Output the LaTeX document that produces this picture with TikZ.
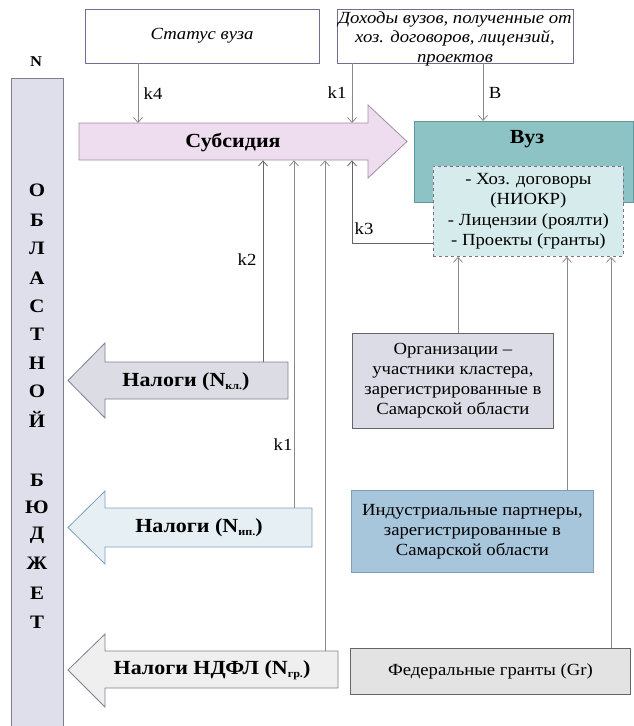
\documentclass[tikz,border=0pt]{standalone}
\usepackage{fontspec}
\setmainfont[FakeStretch=1.1]{Liberation Serif}
\usetikzlibrary{arrows.meta}
\definecolor{budgetfill}{HTML}{DFDFEC}
\definecolor{budgetline}{HTML}{7F7F90}
\definecolor{subsfill}{HTML}{EEDDEE}
\definecolor{subsline}{HTML}{A48CA4}
\definecolor{vuzfill}{HTML}{8EC3C6}
\definecolor{vuzline}{HTML}{5E9A9E}
\definecolor{servfill}{HTML}{D6EBEB}
\definecolor{servline}{HTML}{8A6A8A}
\definecolor{orgfill}{HTML}{DCDCE6}
\definecolor{indfill}{HTML}{A7C6DB}
\definecolor{indline}{HTML}{7F9FB8}
\definecolor{fedfill}{HTML}{E3E3E3}
\definecolor{taxafill}{HTML}{DCDCE4}
\definecolor{taxbfill}{HTML}{E6F0F4}
\definecolor{taxcfill}{HTML}{EFEFEF}
\definecolor{topline}{HTML}{6F6F8F}
\definecolor{conncol}{HTML}{8A8A8A}
\definecolor{conndark}{HTML}{666666}
\newcommand{\bodyfont}{\fontsize{17}{20}\selectfont}
\newcommand{\boldbig}{\fontsize{20}{22}\selectfont\bfseries}
\newcommand{\subsc}[1]{\raisebox{-3pt}{\fontsize{11}{11}\selectfont #1}}
\begin{document}
\begin{tikzpicture}[x=1pt,y=-1pt,
  topbox/.style={draw=topline, fill=white, line width=0.8pt, rectangle, align=center, inner sep=0pt, font=\bodyfont\itshape},
  plainbox/.style={rectangle, line width=0.8pt, align=center, inner sep=0pt, font=\bodyfont},
  conn/.style={draw=conncol, line width=0.8pt, -{Straight Barb[length=5pt,width=9pt]}},
  klabel/.style={font=\bodyfont, inner sep=0pt},
  ghost/.style={rectangle, inner sep=0pt, draw=none},
  bigtext/.style={font=\boldbig, inner sep=0pt},
  letter/.style={font=\fontsize{19}{20}\selectfont\bfseries, inner sep=0pt}]
\useasboundingbox (0,0) rectangle (634,726);

% Budget bar
\node[ghost, draw=budgetline, fill=budgetfill, line width=0.8pt, anchor=north west, minimum width=52pt, minimum height=660pt] (budget) at (11,78) {};
\node[font=\fontsize{15}{16}\selectfont\bfseries, inner sep=0pt] (nlabel) at (36,62) {N};
\foreach \l/\y [count=\i] in {О/190,Б/220,Л/248,А/278,С/306,Т/334,Н/363,О/391,Й/419,Б/480,Ю/507,Д/535,Ж/563,Е/593,Т/622}
  \node[letter] (L\i) at (37,\y) {\l};

% Top boxes
\node[topbox, minimum width=234pt, minimum height=54pt] (status) at (202,36) {Статус вуза};
\node[topbox, minimum width=236pt, minimum height=54pt] (income) at (455,36) {};
\node[font=\fontsize{17}{19.5}\selectfont\itshape, align=center, inner sep=0pt] (incometext) at (455,38.5)
  {Доходы вузов, полученные от\\ хоз. договоров, лицензий,\\ проектов};

% Subsidy arrow
\filldraw[draw=subsline, fill=subsfill, line width=0.8pt]
  (79,123) -- (368,123) -- (368,105) -- (407,141.5) -- (368,178) -- (368,160) -- (79,160) -- cycle;
\node[ghost, anchor=north west, minimum width=289pt, minimum height=37pt] (subs) at (79,123) {};
\node[bigtext] (substext) at (233,142) {Субсидия};

% Vuz
\node[plainbox, draw=vuzline, fill=vuzfill, anchor=north west, minimum width=219pt, minimum height=81pt] (vuz) at (414,121) {};
\node[bigtext] (vuztext) at (527,139) {Вуз};
\node[plainbox, draw=servline, fill=servfill, dashed, anchor=north west, minimum width=190pt, minimum height=90pt, font=\fontsize{17}{20.5}\selectfont] (serv) at (433,166)
  {- Хоз. договоры\\ (НИОКР)\\ - Лицензии (роялти)\\ - Проекты (гранты)};

% Tax arrows
\filldraw[draw=budgetline, fill=taxafill, line width=0.8pt]
  (288,362) -- (105,362) -- (105,343) -- (68,380.5) -- (105,418) -- (105,399) -- (288,399) -- cycle;
\node[ghost, anchor=north west, minimum width=183pt, minimum height=37pt] (taxa) at (105,362) {};
\node[bigtext] (taxatext) at (186,382) {Налоги (N\subsc{кл.})};

\filldraw[draw=indline, fill=taxbfill, line width=0.8pt]
  (312,508) -- (105,508) -- (105,491) -- (68,527.5) -- (105,564) -- (105,547) -- (312,547) -- cycle;
\node[ghost, anchor=north west, minimum width=207pt, minimum height=39pt] (taxb) at (105,508) {};
\node[bigtext] (taxbtext) at (199,528) {Налоги (N\subsc{ип.})};

\filldraw[draw=budgetline, fill=taxcfill, line width=0.8pt]
  (338,651) -- (105,651) -- (105,634) -- (68,670) -- (105,707) -- (105,688) -- (338,688) -- cycle;
\node[ghost, anchor=north west, minimum width=233pt, minimum height=37pt] (taxc) at (105,651) {};
\node[bigtext] (taxctext) at (212,670) {Налоги НДФЛ (N\subsc{гр.})};

% Right-hand boxes
\node[plainbox, draw=conndark, fill=orgfill, anchor=north west, minimum width=201pt, minimum height=95pt] (org) at (352,333)
  {Организации –\\ участники кластера,\\ зарегистрированные в\\ Самарской области};
\node[plainbox, draw=indline, fill=indfill, anchor=north west, minimum width=242pt, minimum height=82pt] (ind) at (351,490)
  {Индустриальные партнеры,\\ зарегистрированные в\\ Самарской области};
\node[plainbox, draw=conndark, fill=fedfill, anchor=north west, minimum width=280pt, minimum height=46pt] (fed) at (350,648)
  {Федеральные гранты (Gr)};

% x positions of connectors
\coordinate (xk4) at (138,0);
\coordinate (xk1) at (352,0);
\coordinate (xb) at (483,0);
\coordinate (xk2) at (263,0);
\coordinate (xip) at (294,0);
\coordinate (xgr) at (325,0);
\coordinate (k3corner) at (352,243);
\coordinate (xorg) at (458,0);
\coordinate (xind) at (567,0);
\coordinate (xfed) at (611,0);

% Connectors
\draw[conn] (status.south -| xk4) -- (subs.north -| xk4);
\draw[conn] (income.south -| xk1) -- (subs.north -| xk1);
\draw[conn] (income.south -| xb) -- (vuz.north -| xb);
\draw[conn, draw=conndark] (taxa.north -| xk2) -- (subs.south -| xk2);
\draw[conn] (taxb.north -| xip) -- (subs.south -| xip);
\draw[conn] (taxc.north -| xgr) -- (subs.south -| xgr);
\draw[conn, draw=conndark] (serv.west |- k3corner) -- (k3corner) -- (subs.south -| k3corner);
\draw[conn] (org.north -| xorg) -- (serv.south -| xorg);
\draw[conn] (ind.north -| xind) -- (serv.south -| xind);
\draw[conn] (fed.north -| xfed) -- (serv.south -| xfed);

% Labels
\node[klabel] (lk4) at (153,94) {k4};
\node[klabel] (lk1a) at (337,93) {k1};
\node[klabel] (lb) at (495,93) {B};
\node[klabel] (lk2) at (247,260) {k2};
\node[klabel] (lk1b) at (283,445) {k1};
\node[klabel] (lk3) at (364,229) {k3};
\end{tikzpicture}
\end{document}
